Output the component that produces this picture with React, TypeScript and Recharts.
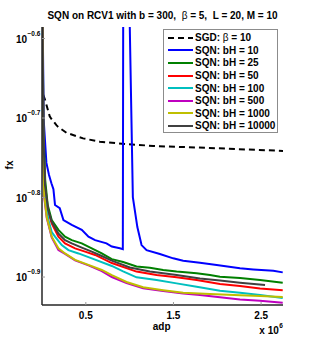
import { Legend, Line, LineChart, XAxis, YAxis } from 'recharts'

const FONT = '"Liberation Sans", Arial, Helvetica, sans-serif'

// adp (x) vs fx (y)
const SGD: [number, number][] = [
  [13700, 0.2133], [30900, 0.211], [88000, 0.2005], [107400, 0.199], [164600, 0.1955], [183000, 0.1945],
  [279000, 0.1912], [469000, 0.1881], [659000, 0.1863], [869000, 0.1854], [1269000, 0.184], [1993000, 0.1828],
  [2697000, 0.1815], [2750000, 0.1814],
]
const BH10: [number, number][] = [
  [3000, 0.3], [19400, 0.1984], [50300, 0.1752], [80000, 0.1692], [107400, 0.1652], [130300, 0.1624],
  [148600, 0.1551], [202300, 0.1537], [244600, 0.1485], [339400, 0.1464], [453700, 0.1443], [530300, 0.1415],
  [605700, 0.1401], [736000, 0.1388], [796600, 0.1375], [888000, 0.1368], [922300, 0.1365], [929100, 0.4],
  [998900, 0.27], [1036600, 0.1587], [1088000, 0.1455], [1136000, 0.1381], [1193100, 0.1361], [1345000, 0.1346],
  [1497000, 0.1329], [1611000, 0.132], [1802000, 0.1312], [1993000, 0.1304], [2259000, 0.1291], [2411000, 0.1287],
  [2640000, 0.1282], [2747000, 0.1276],
]
const BH25: [number, number][] = [
  [3000, 0.3], [17100, 0.1927], [36600, 0.1667], [65100, 0.1551], [110900, 0.1485], [187400, 0.1443],
  [262900, 0.1415], [339400, 0.1401], [453700, 0.1388], [568000, 0.1368], [682300, 0.1348], [796600, 0.1326],
  [925700, 0.1315], [1078900, 0.1298], [1230900, 0.1293], [1382900, 0.1285], [1536000, 0.1279], [1764600, 0.1273],
  [1916600, 0.1266], [2030900, 0.126], [2259400, 0.1255], [2488000, 0.1248], [2747000, 0.1238],
]
const BH50: [number, number][] = [
  [3000, 0.3], [16000, 0.1872], [33100, 0.162], [70900, 0.152], [110900, 0.1471], [187400, 0.1415],
  [262900, 0.1388], [377100, 0.1368], [491400, 0.1355], [605700, 0.1342], [796600, 0.1311], [1078900, 0.1279],
  [1307400, 0.1266], [1536000, 0.1258], [1764600, 0.1248], [2030900, 0.1234], [2259400, 0.1227], [2488000, 0.1218],
  [2747000, 0.1212],
]
const BH100: [number, number][] = [
  [3000, 0.3], [14900, 0.1845], [30900, 0.1597], [73100, 0.1485], [110900, 0.1434], [148600, 0.1415],
  [225100, 0.1381], [301700, 0.1361], [416000, 0.1348], [568000, 0.1329], [796600, 0.13], [925700, 0.128],
  [1078900, 0.1258], [1307400, 0.1248], [1536000, 0.1236], [1764600, 0.1224], [2030900, 0.121], [2259400, 0.1203],
  [2488000, 0.1195], [2747000, 0.1185],
]
const BH500: [number, number][] = [
  [3000, 0.3], [12600, 0.1808], [25100, 0.1587], [53700, 0.1494], [110900, 0.1412], [187400, 0.1361],
  [262900, 0.1346], [377100, 0.1321], [530300, 0.1302], [682300, 0.1281], [796600, 0.1259], [964600, 0.1237],
  [1154000, 0.1219], [1382900, 0.1209], [1611400, 0.12], [1802000, 0.1195], [2030900, 0.1187], [2259400, 0.118],
  [2488000, 0.1175], [2747000, 0.1169],
]
const BH1000: [number, number][] = [
  [3000, 0.3], [12600, 0.1819], [25100, 0.1597], [53700, 0.1499], [110900, 0.1415], [187400, 0.1368],
  [262900, 0.1348], [377100, 0.1323], [530300, 0.1304], [682300, 0.1285], [796600, 0.1266], [964600, 0.1241],
  [1154000, 0.1222], [1382900, 0.1212], [1611400, 0.1203], [1916600, 0.1199], [2259400, 0.1194], [2488000, 0.1192],
  [2747000, 0.1188],
]
const BH10000: [number, number][] = [
  [3000, 0.3], [16000, 0.19], [34300, 0.1643], [70900, 0.1529], [110900, 0.1478], [187400, 0.1428],
  [262900, 0.1401], [339400, 0.1388], [453700, 0.1371], [568000, 0.1355], [682300, 0.1338], [796600, 0.132],
  [1002300, 0.1294], [1230900, 0.1279], [1536000, 0.1266], [1802000, 0.1254], [2030900, 0.1246], [2259400, 0.1238],
  [2545000, 0.123],
]

const X_DOMAIN = [0, 2750000]
const X_TICKS = [500000, 1000000, 1500000, 2000000, 2500000]
const X_TICK_LABELS = ['0.5', '1', '1.5', '2', '2.5']
const Y_DOMAIN = [0.1161, 0.2597]
const Y_TICKS = [0.12589, 0.15849, 0.19953, 0.25119]
const Y_TICK_LABELS = ['\u22120.9', '\u22120.8', '\u22120.7', '\u22120.6']

const SERIES = [
  { key: 'sgd', label: 'SGD', data: SGD, color: '#000000', dash: '6 4' },
  { key: 'bh10', label: 'SQN: bH = 10', data: BH10, color: '#0000ff' },
  { key: 'bh25', label: 'SQN: bH = 25', data: BH25, color: '#008000' },
  { key: 'bh50', label: 'SQN: bH = 50', data: BH50, color: '#ff0000' },
  { key: 'bh100', label: 'SQN: bH = 100', data: BH100, color: '#00bfbf' },
  { key: 'bh500', label: 'SQN: bH = 500', data: BH500, color: '#bf00bf' },
  { key: 'bh1000', label: 'SQN: bH = 1000', data: BH1000, color: '#bfbf00' },
  { key: 'bh10000', label: 'SQN: bH = 10000', data: BH10000, color: '#404040' },
]

const TICK_GRAY = '#9a9a9a'

function BottomTick({ x, y, payload }: any) {
  const i = X_TICKS.indexOf(payload.value)
  return (
    <g>
      <line x1={x} x2={x} y1={y} y2={y - 3} stroke={TICK_GRAY} />
      <text x={x} y={y + 13.5} textAnchor="middle" fontFamily={FONT} fontWeight="bold" fontSize={10} fill="#000">
        {X_TICK_LABELS[i]}
      </text>
    </g>
  )
}

function TopTick({ x, y }: any) {
  return <line x1={x} x2={x} y1={y} y2={y + 3} stroke={TICK_GRAY} />
}

function LeftTick({ x, y, payload }: any) {
  const i = Y_TICKS.indexOf(payload.value)
  return (
    <g>
      <line x1={x} x2={x + 3} y1={y} y2={y} stroke={TICK_GRAY} />
      <text x={x - 15} y={y + 4} textAnchor="end" fontFamily={FONT} fontWeight="bold" fontSize={10} fill="#000">
        10
      </text>
      <text x={x - 14.5} y={y - 3} textAnchor="start" fontFamily={FONT} fontWeight="bold" fontSize={6.5} fill="#000">
        {Y_TICK_LABELS[i]}
      </text>
    </g>
  )
}

function RightTick({ x, y }: any) {
  return <line x1={x} x2={x - 3} y1={y} y2={y} stroke={TICK_GRAY} />
}

function LegendBox() {
  return (
    <div
      style={{
        boxSizing: 'border-box',
        width: 115,
        border: '1px solid #8c8c8c',
        background: '#fff',
        padding: '1.5px 0 0 4px',
        fontFamily: FONT,
        fontWeight: 'bold',
        fontSize: 10,
        color: '#000',
      }}
    >
      {SERIES.map((s) => (
        <div key={s.key} style={{ display: 'flex', alignItems: 'center', height: 12.6, whiteSpace: 'nowrap' }}>
          <svg width={27} height={4} style={{ flex: 'none' }}>
            <line x1={0} x2={25} y1={2} y2={2} stroke={s.color} strokeWidth={2} strokeDasharray={s.dash} />
          </svg>
          {s.key === 'sgd' ? (
            <span>
              SGD: <span style={{ fontWeight: 'normal' }}>β</span> = 10
            </span>
          ) : (
            <span>{s.label}</span>
          )}
        </div>
      ))}
    </div>
  )
}

export default function App() {
  return (
    <div style={{ position: 'absolute', left: 0, top: 0, width: 312, height: 344, background: '#fff' }}>
      <LineChart width={312} height={344} margin={{ top: 27, right: 29, bottom: 0, left: 0 }}>
        <XAxis
          xAxisId="b"
          type="number"
          dataKey="x"
          domain={X_DOMAIN}
          ticks={X_TICKS}
          allowDataOverflow
          height={39}
          tickSize={0}
          tickMargin={0}
          tickLine={false}
          tick={<BottomTick />}
          axisLine={{ stroke: '#262626', strokeWidth: 1.5 }}
        />
        <XAxis
          xAxisId="t"
          orientation="top"
          type="number"
          domain={X_DOMAIN}
          ticks={X_TICKS}
          allowDataOverflow
          height={0}
          tickSize={0}
          tickMargin={0}
          tickLine={false}
          tick={<TopTick />}
          axisLine={{ stroke: '#a0a0a0' }}
        />
        <YAxis
          yAxisId="l"
          scale="log"
          type="number"
          domain={Y_DOMAIN}
          ticks={Y_TICKS}
          allowDataOverflow
          width={42}
          tickSize={0}
          tickMargin={0}
          tickLine={false}
          tick={<LeftTick />}
          axisLine={{ stroke: '#262626', strokeWidth: 1.5 }}
        />
        <YAxis
          yAxisId="r"
          orientation="right"
          scale="log"
          type="number"
          domain={Y_DOMAIN}
          ticks={Y_TICKS}
          allowDataOverflow
          width={0}
          tickSize={0}
          tickMargin={0}
          tickLine={false}
          tick={<RightTick />}
          axisLine={{ stroke: '#a0a0a0' }}
        />
        {SERIES.map((s) => (
          <Line
            key={s.key}
            xAxisId="b"
            yAxisId="l"
            data={s.data.map(([x, y]) => ({ x, y }))}
            dataKey="y"
            stroke={s.color}
            strokeWidth={2}
            strokeDasharray={s.dash}
            dot={false}
            activeDot={false}
            isAnimationActive={false}
          />
        ))}
        <Legend
          layout="vertical"
          align="center"
          verticalAlign="middle"
          content={<LegendBox />}
          wrapperStyle={{ top: 29, left: 163, width: 115, height: 'auto' }}
        />
      </LineChart>
      <svg
        width={312}
        height={344}
        style={{ position: 'absolute', left: 0, top: 0, pointerEvents: 'none' }}
        fontFamily={FONT}
        fontWeight="bold"
      >
        <text x={162.5} y={19} textAnchor="middle" fontSize={10} style={{ whiteSpace: 'pre' }}>
          SQN on RCV1 with b = 300,  <tspan fontWeight="normal">β</tspan> = 5,  L = 20, M = 10
        </text>
        <text transform="translate(12.5,165) rotate(-90)" textAnchor="middle" fontSize={10}>
          fx
        </text>
        <text x={161.7} y={329.5} textAnchor="middle" fontSize={10}>
          adp
        </text>
        <text x={259.3} y={334} fontSize={10} style={{ whiteSpace: 'pre' }}>
          x 10
        </text>
        <text x={279.3} y={328} fontSize={6.5}>
          6
        </text>
      </svg>
    </div>
  )
}
